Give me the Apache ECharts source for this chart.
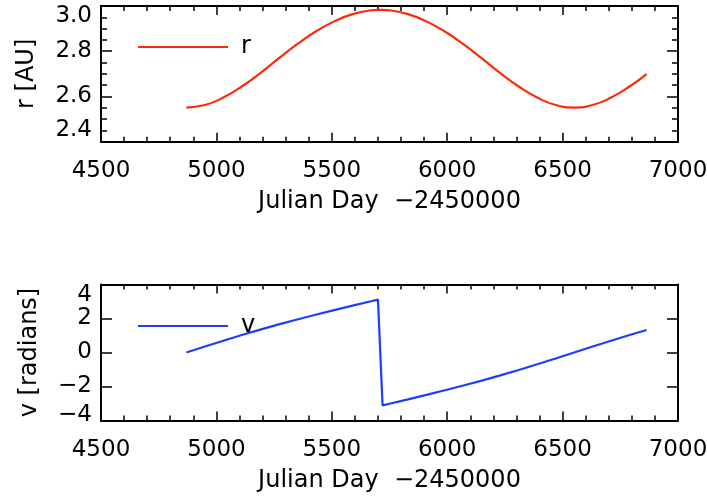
<!DOCTYPE html>
<html>
<head>
<meta charset="utf-8">
<script src="https://cdn.jsdelivr.net/npm/echarts@6/dist/echarts.min.js"></script>
<style>
html,body{margin:0;padding:0;background:#fff;}
#main{width:707px;height:497px;}
</style>
</head>
<body>
<div id="main"></div>
<script>
// Julian Day - 2450000
var days = [4870, 4950, 5030, 5110, 5190, 5270, 5350, 5430, 5510, 5590, 5670, 5700, 5720, 5750, 5830, 5910, 5990, 6070, 6150, 6230, 6310, 6390, 6470, 6550, 6630, 6710, 6790, 6864];
// heliocentric distance r [AU]
var rValues = [2.551, 2.562, 2.595, 2.644, 2.703, 2.768, 2.831, 2.887, 2.932, 2.964, 2.981, 2.983, 2.983, 2.981, 2.964, 2.932, 2.887, 2.831, 2.768, 2.703, 2.644, 2.595, 2.562, 2.551, 2.562, 2.595, 2.644, 2.699];
// true anomaly v [radians]
var vValues = [0, 0.350, 0.694, 1.028, 1.348, 1.652, 1.943, 2.222, 2.492, 2.755, 3.013, 3.110, -3.110, -3.013, -2.755, -2.492, -2.222, -1.943, -1.652, -1.348, -1.028, -0.694, -0.350, 0, 0.350, 0.694, 1.028, 1.323];
var xTicks = [4500, 5000, 5500, 6000, 6500, 7000];
var rTicks = [2.4, 2.6, 2.8, 3.0];
var vTicks = [-4, -2, 0, 2, 4];
var xTitle = 'Julian Day  \u22122450000';
var rTitle = 'r [AU]';
var vTitle = 'v [radians]';

var FONT = 'DejaVu Sans';
var FS = 23;
var FSN = 24;
function pairs(xs, ys){ return xs.map(function(x,i){ return [x, ys[i]]; }); }
var lineStyleAxis = {color:'#000', width:2};

function xAxisMain(grid){
  return {
    type:'value', gridIndex:grid, position:'bottom',
    min:xTicks[0], max:xTicks[xTicks.length-1], interval:500,
    name:xTitle, nameLocation:'middle', nameGap:48,
    nameTextStyle:{fontFamily:FONT, fontSize:FSN, color:'#000'},
    axisLine:{show:true, onZero:false, lineStyle:lineStyleAxis},
    axisTick:{show:true, inside:true, length:9, lineStyle:{color:'#000', width:1.5}},
    minorTick:{show:true, splitNumber:5, length:5, lineStyle:{color:'#000', width:1.5}},
    axisLabel:{fontFamily:FONT, fontSize:FS, color:'#000', margin:18, showMinLabel:true, showMaxLabel:true,
      hideOverlap:false, formatter:function(val){ return String(val); }},
    splitLine:{show:false}, minorSplitLine:{show:false}
  };
}
function xAxisTop(grid){
  return {
    type:'value', gridIndex:grid, position:'top',
    min:xTicks[0], max:xTicks[xTicks.length-1], interval:500,
    axisLine:{show:true, onZero:false, lineStyle:lineStyleAxis},
    axisTick:{show:true, inside:true, length:9, lineStyle:{color:'#000', width:1.5}},
    minorTick:{show:true, splitNumber:5, length:5, lineStyle:{color:'#000', width:1.5}},
    axisLabel:{show:false}, splitLine:{show:false}
  };
}
function yAxisDef(grid, ticks, interval, minorSplit, title, gap, pos, showLabels, padTop, padBot){
  var lo = ticks[0], hi = ticks[ticks.length-1];
  var a = {
    type:'value', gridIndex:grid, position:pos,
    min:lo, max:hi, interval:interval,
    axisLine:{show:true, onZero:false, lineStyle:lineStyleAxis},
    axisTick:{show:true, inside:true, length:11, lineStyle:{color:'#000', width:1.5}},
    minorTick:{show:minorSplit>0, splitNumber:minorSplit||5, length:6, lineStyle:{color:'#000', width:1.5}},
    splitLine:{show:false}
  };
  if(showLabels){
    a.name = title; a.nameLocation='middle'; a.nameGap=gap;
    a.nameTextStyle = {fontFamily:FONT, fontSize:FSN, color:'#000'};
    var base = {fontFamily:FONT, fontSize:FS, color:'#000', lineHeight:18};
    a.axisLabel = {fontFamily:FONT, fontSize:FS, lineHeight:18, color:'#000', margin:9,
      showMinLabel:true, showMaxLabel:true, hideOverlap:false,
      rich:{
        n: base,
        mx: Object.assign({padding:[padTop,0,0,0]}, base),
        mn: Object.assign({padding:[0,0,padBot,0]}, base)
      },
      formatter:function(val){
        var s = interval < 1 ? val.toFixed(1) : String(val).replace('-', '\u2212');
        var key = Math.abs(val-hi) < 1e-9 ? 'mx' : (Math.abs(val-lo) < 1e-9 ? 'mn' : 'n');
        return '{' + key + '|' + s + '}';
      }};
  } else {
    a.axisLabel = {show:false};
  }
  return a;
}

var chart = echarts.init(document.getElementById('main'), null, {renderer:'canvas'});
chart.setOption({
  backgroundColor:'#fff',
  animation:false,
  textStyle:{fontFamily:FONT},
  grid:[
    {left:101, width:577, top:6, height:135.7, containLabel:false, outerBoundsMode:'none'},
    {left:101, width:577, top:284.5, height:136, containLabel:false, outerBoundsMode:'none'}
  ],
  xAxis:[xAxisMain(0), xAxisTop(0), xAxisMain(1), xAxisTop(1)],
  yAxis:[
    yAxisDef(0, rTicks, 0.2, 4, rTitle, 62, 'left', true, 20, 23),
    yAxisDef(0, rTicks, 0.2, 4, rTitle, 62, 'right', false),
    yAxisDef(1, vTicks, 2, 0, vTitle, 59, 'left', true, 21, 11),
    yAxisDef(1, vTicks, 2, 0, vTitle, 59, 'right', false)
  ],
  legend:[
    {data:['r'], left:138, top:35, padding:0, icon:'rect', itemWidth:90, itemHeight:2,
     textStyle:{fontFamily:FONT, fontSize:FSN, color:'#000', padding:[0,0,0,8]}},
    {data:['v'], left:138, top:314, padding:0, icon:'rect', itemWidth:90, itemHeight:2,
     textStyle:{fontFamily:FONT, fontSize:FSN, color:'#000', padding:[0,0,0,8]}}
  ],
  series:[
    {name:'r', type:'line', xAxisIndex:0, yAxisIndex:0, data:pairs(days, rValues), smooth:0.5,
     showSymbol:false, symbol:'none', lineStyle:{color:'#ff2a0a', width:2.2}, itemStyle:{color:'#ff2a0a'}},
    {name:'v', type:'line', xAxisIndex:2, yAxisIndex:2, data:pairs(days, vValues), smooth:false,
     showSymbol:false, symbol:'none', lineStyle:{color:'#1f3cff', width:2.2}, itemStyle:{color:'#1f3cff'}}
  ]
});
</script>
</body>
</html>
